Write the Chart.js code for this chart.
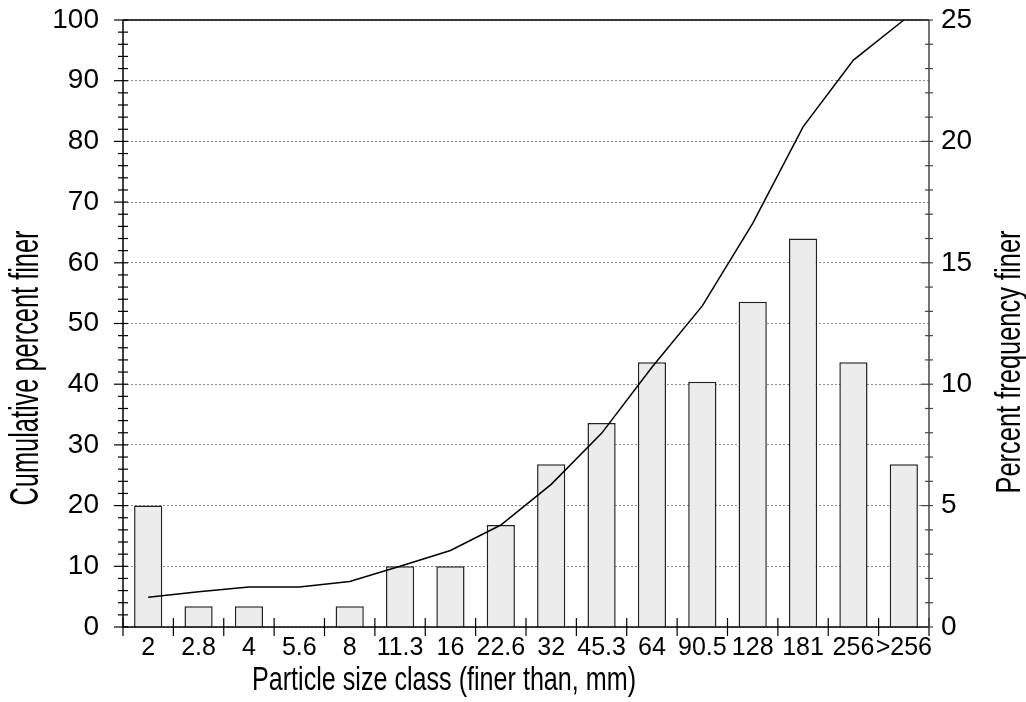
<!DOCTYPE html>
<html>
<head>
<meta charset="utf-8">
<title>Particle size class</title>
<script src="https://cdn.jsdelivr.net/npm/chart.js@4.4.1/dist/chart.umd.min.js"></script>
<style>
  html, body { margin: 0; padding: 0; background: #fff; }
  canvas { display: block; }
</style>
</head>
<body>
<canvas id="sizeChart" width="1026" height="702"></canvas>
<script>
// size classes, finer than (mm)
const sizeClasses = ['2', '2.8', '4', '5.6', '8', '11.3', '16', '22.6', '32', '45.3', '64', '90.5', '128', '181', '256', '>256']
// bars, right axis
const percentFrequency = [5.0, 0.85, 0.85, 0, 0.85, 2.5, 2.5, 4.2, 6.7, 8.4, 10.9, 10.1, 13.4, 16.0, 10.9, 6.7]
// line, left axis
const cumulativeFiner = [4.9, 5.8, 6.6, 6.6, 7.5, 10.0, 12.6, 16.8, 23.5, 31.9, 42.8, 52.9, 66.5, 82.4, 93.4, 100]

const xTitle = 'Particle size class (finer than, mm)'
const leftTitle = 'Cumulative percent finer'
const rightTitle = 'Percent frequency finer'

const FONT = "'Liberation Sans', Arial, sans-serif"

// text squeezed to a given length, like the old plotting program did
function drawSqueezed(ctx, text, cx, cy, size, length, angle) {
  ctx.save()
  ctx.font = size + 'px ' + FONT
  ctx.fillStyle = '#000'
  ctx.textAlign = 'center'
  ctx.textBaseline = 'middle'
  ctx.translate(cx, cy)
  ctx.rotate(angle)
  const w = ctx.measureText(text).width
  ctx.scale(length / w, 1)
  ctx.fillText(text, 0, 0)
  ctx.restore()
}

// fixed box sizes so the plot area sits where the original one does
function fixBox(width, height) {
  return (axis) => {
    if (width) axis.width = width
    if (height) axis.height = height
    axis.paddingTop = 0
    axis.paddingBottom = 0
    axis.paddingLeft = 0
    axis.paddingRight = 0
  }
}

const axisFrame = {
  id: 'axisFrame',
  afterDatasetsDraw(chart) {
    const { ctx, chartArea: a, scales } = chart
    const yl = scales.yCumulative
    const yr = scales.yFrequency
    const line = (x1, y1, x2, y2) => {
      ctx.beginPath()
      ctx.moveTo(x1, y1)
      ctx.lineTo(x2, y2)
      ctx.stroke()
    }
    ctx.save()
    ctx.lineWidth = 1.5
    ctx.strokeStyle = '#000'
    line(a.left, a.top, a.right, a.top)
    line(a.left, a.top, a.left, a.bottom)
    line(a.left, a.bottom, a.right, a.bottom)

    ctx.lineWidth = 1.2
    for (let v = 0; v <= 100; v += 2) {
      const y = yl.getPixelForValue(v)
      const major = v % 10 === 0
      line(a.left - (major ? 9 : 5), y, a.left + 5, y)
    }

    const step = a.width / sizeClasses.length
    for (let k = 0; k <= sizeClasses.length; k++) {
      const x = a.left + k * step
      line(x, a.bottom - 9, x, a.bottom + 9)
    }

    ctx.strokeStyle = '#444'
    ctx.lineWidth = 1.5
    line(a.right, a.top, a.right, a.bottom)
    ctx.lineWidth = 1.2
    for (let v = 0; v <= 25; v += 1) {
      const y = yr.getPixelForValue(v)
      const major = v % 5 === 0
      line(a.right - (major ? 8 : 4), y, a.right + 4, y)
    }
    ctx.restore()
  },
  afterDraw(chart) {
    const { ctx } = chart
    drawSqueezed(ctx, xTitle, 444, 681, 34, 384, 0)
    drawSqueezed(ctx, leftTitle, 27, 368, 40, 275, -Math.PI / 2)
    drawSqueezed(ctx, rightTitle, 1010, 362, 35, 263, -Math.PI / 2)
  }
}

new Chart(document.getElementById('sizeChart'), {
  type: 'bar',
  data: {
    labels: sizeClasses,
    datasets: [
      {
        type: 'line',
        label: leftTitle,
        data: cumulativeFiner,
        yAxisID: 'yCumulative',
        borderColor: '#000',
        borderWidth: 1.5,
        pointRadius: 0,
        tension: 0,
        fill: false,
        clip: false,
        order: 0
      },
      {
        type: 'bar',
        label: rightTitle,
        data: percentFrequency,
        yAxisID: 'yFrequency',
        backgroundColor: '#ececec',
        borderColor: '#222',
        borderWidth: 1.5,
        categoryPercentage: 1,
        barPercentage: 0.56,
        order: 1
      }
    ]
  },
  options: {
    responsive: false,
    animation: false,
    devicePixelRatio: 1,
    layout: {
      autoPadding: false,
      padding: { top: 20, left: 0, right: 0, bottom: 0 }
    },
    plugins: {
      legend: { display: false },
      tooltip: { enabled: false }
    },
    scales: {
      x: {
        position: 'bottom',
        grid: { display: false, drawTicks: false },
        border: { display: false },
        ticks: {
          color: '#000',
          font: { family: FONT, size: 25 },
          padding: 6,
          maxRotation: 0,
          autoSkip: false
        },
        afterFit: fixBox(0, 75)
      },
      yCumulative: {
        position: 'left',
        min: 0,
        max: 100,
        grid: { color: '#8a8a8a', lineWidth: 1, drawTicks: false },
        border: { display: false, dash: [2, 2] },
        ticks: {
          stepSize: 10,
          color: '#000',
          font: { family: FONT, size: 28 },
          padding: 24
        },
        afterFit: fixBox(123, 0)
      },
      yFrequency: {
        position: 'right',
        min: 0,
        max: 25,
        grid: { display: false, drawTicks: false },
        border: { display: false },
        ticks: {
          stepSize: 5,
          color: '#000',
          font: { family: FONT, size: 28 },
          padding: 12
        },
        afterFit: fixBox(97, 0)
      }
    }
  },
  plugins: [axisFrame]
})
</script>
</body>
</html>
